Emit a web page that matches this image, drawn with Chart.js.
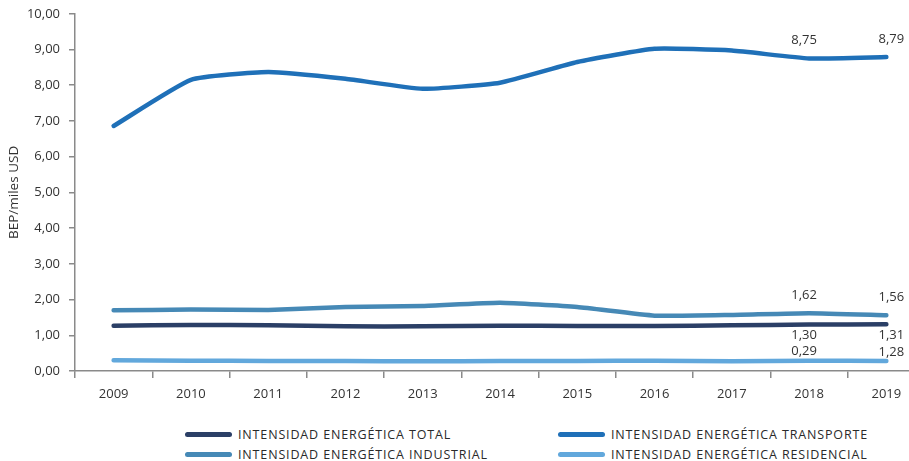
<!DOCTYPE html>
<html>
<head>
<meta charset="utf-8">
<script src="https://cdn.jsdelivr.net/npm/chart.js@4"></script>
<style>
  html, body { margin: 0; padding: 0; background: #fff; overflow: hidden; width: 909px; height: 461px; }
  #wrap { position: absolute; left: 0; top: -3px; width: 935px; height: 411px; }
  #legend { position: absolute; left: 0; top: 426px; width: 909px; font-family: "Open Sans", sans-serif; font-size: 12.5px; color: #2a2a2a; letter-spacing: 0.85px; }
  .item { position: absolute; display: flex; align-items: center; white-space: nowrap; height: 16px; }
  .sw { width: 47px; height: 5px; border-radius: 3px; margin-right: 6px; }
</style>
</head>
<body>
<div id="wrap"><canvas id="chart"></canvas></div>
<div id="legend"></div>
<script>
const years = ['2009','2010','2011','2012','2013','2014','2015','2016','2017','2018','2019'];
const total = [1.27, 1.29, 1.28, 1.25, 1.25, 1.27, 1.26, 1.26, 1.28, 1.30, 1.31];
const transporte = [6.86, 8.15, 8.37, 8.18, 7.90, 8.07, 8.65, 9.02, 8.97, 8.75, 8.79];
const industrial = [1.70, 1.72, 1.71, 1.79, 1.82, 1.91, 1.79, 1.55, 1.57, 1.62, 1.56];
const residencial = [0.30, 0.29, 0.28, 0.28, 0.27, 0.28, 0.28, 0.29, 0.27, 0.29, 0.28];

// text labels printed on the chart (as in the original figure)
const lblTotal = {9: ['1,30', 'below'], 10: ['1,31', 'below']};
const lblTransporte = {9: ['8,75', 'above'], 10: ['8,79', 'above']};
const lblIndustrial = {9: ['1,62', 'above'], 10: ['1,56', 'above']};
const lblResidencial = {9: ['0,29', 'near'], 10: ['1,28', 'near']};

const series = [
  { label: 'INTENSIDAD ENERGÉTICA TOTAL', data: total, color: '#2b3f66', labels: lblTotal },
  { label: 'INTENSIDAD ENERGÉTICA TRANSPORTE', data: transporte, color: '#1f70b8', labels: lblTransporte },
  { label: 'INTENSIDAD ENERGÉTICA INDUSTRIAL', data: industrial, color: '#4689b6', labels: lblIndustrial },
  { label: 'INTENSIDAD ENERGÉTICA RESIDENCIAL', data: residencial, color: '#62a8dc', labels: lblResidencial }
];

const fmt = v => v.toFixed(2).replace('.', ',');
const tickFont = { family: '"Open Sans", sans-serif', size: 13 };
const offsets = { above: -18, below: 11, near: -9 };

const valueLabels = {
  id: 'valueLabels',
  afterDatasetsDraw(chart) {
    const ctx = chart.ctx;
    ctx.save();
    ctx.font = '13px "Open Sans", sans-serif';
    ctx.fillStyle = '#333';
    ctx.textAlign = 'center';
    ctx.textBaseline = 'middle';
    chart.data.datasets.forEach((ds, i) => {
      const meta = chart.getDatasetMeta(i);
      Object.entries(series[i].labels).forEach(([idx, [txt, pos]]) => {
        const pt = meta.data[idx];
        const dx = idx == 9 ? -5 : 5;
        ctx.fillText(txt, pt.x + dx, pt.y + offsets[pos]);
      });
    });
    ctx.restore();
  }
};

new Chart(document.getElementById('chart'), {
  type: 'line',
  data: {
    labels: years,
    datasets: series.map(s => ({
      label: s.label, data: s.data,
      borderColor: s.color, backgroundColor: s.color,
      borderWidth: 4.5, pointRadius: 0, tension: 0.15,
      borderCapStyle: 'round', borderJoinStyle: 'round'
    }))
  },
  options: {
    responsive: true,
    maintainAspectRatio: false,
    animation: false,
    layout: { padding: { top: 11, right: 10, left: 0, bottom: 0 } },
    plugins: { legend: { display: false }, tooltip: { enabled: false } },
    scales: {
      x: {
        offset: true,
        grid: { offset: true, drawOnChartArea: false, drawTicks: true, tickLength: 7, color: '#8a8a8a', lineWidth: 1.5 },
        border: { color: '#8a8a8a', width: 1.5 },
        ticks: { color: '#333', font: tickFont, padding: 8, maxRotation: 0 },
        afterFit: s => { s.height = 37; }
      },
      y: {
        min: 0, max: 10,
        grid: { drawOnChartArea: false, drawTicks: true, tickLength: 6, color: '#8a8a8a', lineWidth: 1.5 },
        border: { color: '#8a8a8a', width: 1.5 },
        ticks: { stepSize: 1, color: '#333', font: tickFont, padding: 9, callback: v => fmt(v) },
        title: { display: true, text: 'BEP/miles USD', color: '#333', font: { family: '"Open Sans", sans-serif', size: 13.5 }, padding: { top: 6, bottom: 0 } },
        afterFit: s => { s.width = 75; }
      }
    }
  },
  plugins: [valueLabels]
});

const legend = document.getElementById('legend');
const legendPos = [[185, 0], [558, 0], [185, 20], [558, 20]];
[0, 1, 2, 3].forEach((i, k) => {
  const d = document.createElement('div');
  d.className = 'item';
  d.style.left = legendPos[k][0] + 'px';
  d.style.top = legendPos[k][1] + 'px';
  d.innerHTML = '<span class="sw" style="background:' + series[i].color + '"></span>' + series[i].label;
  legend.appendChild(d);
});
</script>
</body>
</html>
